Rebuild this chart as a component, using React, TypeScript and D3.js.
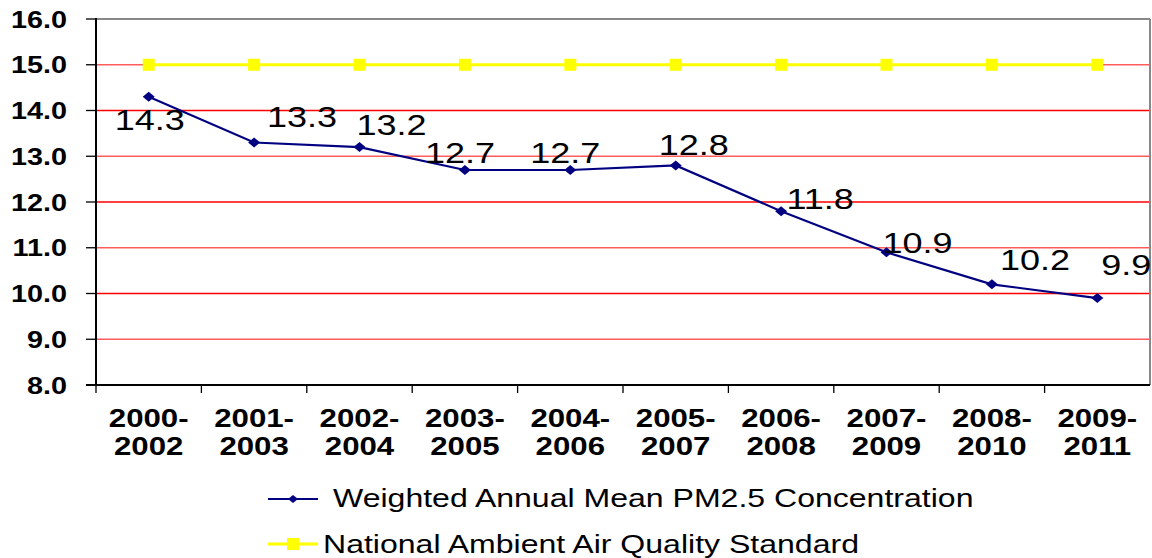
import React from 'react';
import * as d3 from 'd3';

// data
const periodStart = ['2000-', '2001-', '2002-', '2003-', '2004-', '2005-', '2006-', '2007-', '2008-', '2009-'];
const periodEnd = ['2002', '2003', '2004', '2005', '2006', '2007', '2008', '2009', '2010', '2011'];
const pmMean = [14.3, 13.3, 13.2, 12.7, 12.7, 12.8, 11.8, 10.9, 10.2, 9.9];
const standard = [15, 15, 15, 15, 15, 15, 15, 15, 15, 15];
const yTicks = [8, 9, 10, 11, 12, 13, 14, 15, 16];
const seriesNames = ['Weighted Annual Mean PM2.5 Concentration', 'National Ambient Air Quality Standard'];

// label placement relative to each point (dx to label centre, dy to baseline)
const labelOffsets: [number, number][] = [
  [1, 33], [48, -16], [32, -12], [-5, -7], [-5, -7],
  [18, -10], [39, -2], [31, 1], [43, -14], [29, -23],
];

const W = 1152;
const H = 558;
const left = 96;
const right = 1150;
const top = 19;
const bottom = 385;
const SX = 1.2; // the reference is stretched horizontally
const FONT = 'Liberation Sans, Arial, sans-serif';

const Txt = ({ x, y, size, bold = false, anchor = 'middle', children }: any) => (
  <text
    transform={`translate(${x},${y}) scale(${SX},1)`}
    fontSize={size}
    fontWeight={bold ? 'bold' : 'normal'}
    fontFamily={FONT}
    textAnchor={anchor}
    fill="#000"
  >
    {children}
  </text>
);

const diamond = (cx: number, cy: number, w = 6, h = 5) =>
  `M${cx},${cy - h}L${cx + w},${cy}L${cx},${cy + h}L${cx - w},${cy}Z`;

export default function App() {
  const ids = periodEnd.map((_, i) => i);
  const x = d3.scaleBand<number>().domain(ids).range([left, right]).padding(0);
  const y = d3.scaleLinear().domain([8, 16]).range([bottom, top]);
  const cx = (i: number) => (x(i) as number) + x.bandwidth() / 2;

  const line = d3.line<number>().x((_, i) => cx(i)).y((d) => y(d));

  return (
    <svg width={W} height={H} style={{ position: 'absolute', left: 0, top: 0, background: '#fff' }}>
      {/* gridlines */}
      {yTicks.filter((t) => t > 8 && t < 16).map((t) => (
        <line key={t} x1={left} x2={right} y1={y(t)} y2={y(t)}
          stroke={t % 2 === 1 ? '#ff5c5c' : '#ff0000'} strokeWidth={1.3} />
      ))}
      {/* frame */}
      <line x1={left} x2={right} y1={top} y2={top} stroke="#888" strokeWidth={2} />
      <line x1={right} x2={right} y1={top} y2={bottom} stroke="#888" strokeWidth={2} />
      <line x1={left} x2={left} y1={top - 1} y2={bottom} stroke="#000" strokeWidth={2} />
      <line x1={left - 10} x2={right} y1={bottom} y2={bottom} stroke="#000" strokeWidth={2} />
      {/* y ticks + labels */}
      {yTicks.map((t) => (
        <g key={t}>
          <line x1={left - 10} x2={left} y1={y(t)} y2={y(t)} stroke="#000" strokeWidth={1.3} />
          <Txt x={67} y={y(t) + 8.5} size={24} bold anchor="end">{t.toFixed(1)}</Txt>
        </g>
      ))}
      {/* x ticks + labels */}
      {ids.map((i) => (
        <line key={'t' + i} x1={x(i)} x2={x(i)} y1={bottom} y2={bottom + 8} stroke="#000" strokeWidth={1.3} />
      ))}
      {ids.map((i) => (
        <g key={'l' + i}>
          <Txt x={cx(i)} y={427} size={26} bold>{periodStart[i]}</Txt>
          <Txt x={cx(i)} y={455} size={26} bold>{periodEnd[i]}</Txt>
        </g>
      ))}
      {/* standard line */}
      <path d={line(standard) || ''} fill="none" stroke="#ffff00" strokeWidth={3} />
      {standard.map((v, i) => (
        <rect key={'s' + i} x={cx(i) - 6} y={y(v) - 6} width={12} height={12} fill="#ffff00" />
      ))}
      {/* PM2.5 series */}
      <path d={line(pmMean) || ''} fill="none" stroke="#000080" strokeWidth={2.2} />
      {pmMean.map((v, i) => (
        <path key={'p' + i} d={diamond(cx(i), y(v))} fill="#000080" />
      ))}
      {pmMean.map((v, i) => (
        <Txt key={'v' + i} x={cx(i) + labelOffsets[i][0]} y={y(v) + labelOffsets[i][1]} size={30}>
          {v.toFixed(1)}
        </Txt>
      ))}
      {/* legend */}
      <line x1={268} x2={318} y1={499} y2={499} stroke="#000080" strokeWidth={2} />
      <path d={diamond(293, 499, 5, 4)} fill="#000080" />
      <Txt x={333} y={507} size={26.7} anchor="start">{seriesNames[0]}</Txt>
      <line x1={268} x2={318} y1={544} y2={544} stroke="#ffff00" strokeWidth={3} />
      <rect x={287} y={538} width={12} height={12} fill="#ffff00" />
      <Txt x={323} y={553} size={26.7} anchor="start">{seriesNames[1]}</Txt>
    </svg>
  );
}
